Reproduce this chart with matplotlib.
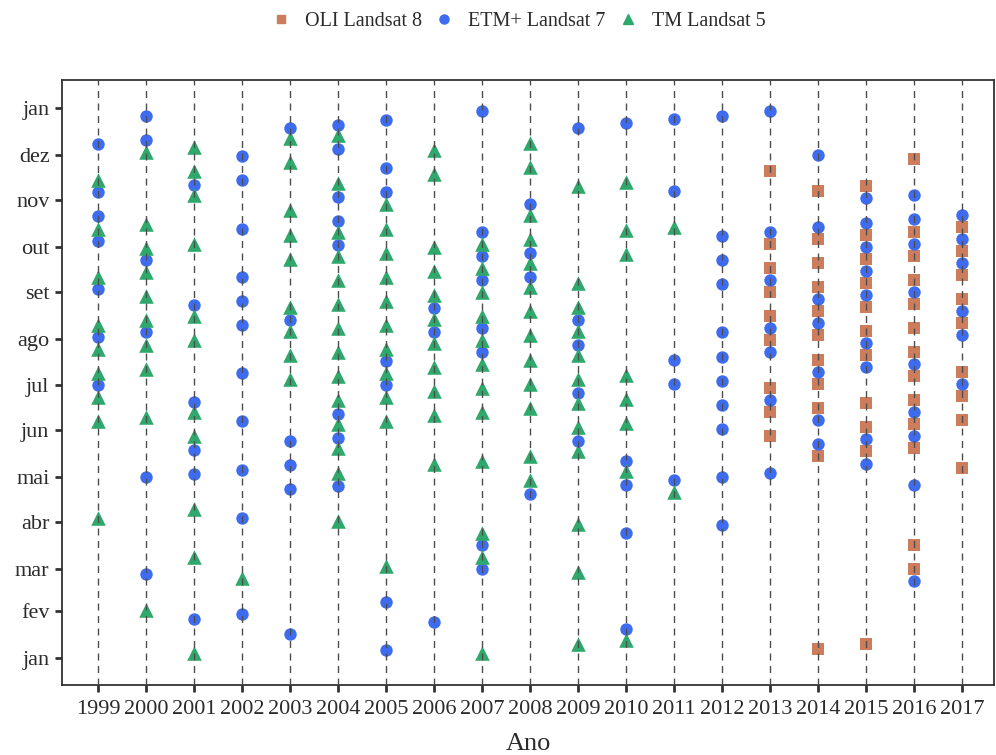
import matplotlib
matplotlib.use("Agg")
import matplotlib.pyplot as plt
from matplotlib.lines import Line2D

plt.rcParams['font.family'] = ['Liberation Serif', 'DejaVu Serif']

# Acquisition dates (day of year) per sensor and year
years = list(range(1999, 2018))

oli_days = {
    2013: [324, 276, 260, 244, 228, 212, 180, 164, 148],
    2014: [311, 279, 263, 247, 231, 215, 199, 183, 167, 135, 7],
    2015: [314, 282, 266, 250, 234, 218, 202, 170, 154, 138, 10],
    2016: [332, 284, 268, 252, 236, 220, 204, 188, 172, 156, 140, 76, 60],
    2017: [287, 271, 255, 239, 223, 191, 175, 159, 127],
}

etm_days = {
    1999: [342, 310, 294, 278, 246, 214, 182],
    2000: [361, 345, 265, 217, 121, 57],
    2001: [315, 235, 171, 139, 123, 27],
    2002: [334, 318, 286, 254, 238, 222, 190, 158, 126, 94, 30],
    2003: [353, 225, 145, 129, 113, 17],
    2004: [355, 339, 307, 291, 275, 163, 147, 115],
    2005: [358, 326, 310, 198, 182, 38, 6],
    2006: [233, 217, 25],
    2007: [364, 284, 268, 252, 220, 204, 76, 60],
    2008: [302, 270, 254, 110],
    2009: [353, 225, 209, 177, 145],
    2010: [356, 132, 116, 84, 20],
    2011: [359, 311, 199, 183, 119],
    2012: [361, 281, 265, 249, 217, 201, 185, 169, 153, 121, 89],
    2013: [364, 284, 252, 220, 204, 172, 124],
    2014: [335, 287, 239, 223, 191, 159, 143],
    2015: [306, 290, 274, 258, 242, 210, 194, 146, 130],
    2016: [308, 292, 276, 244, 196, 164, 148, 116, 52],
    2017: [295, 279, 263, 231, 215, 183],
}

tm_days = {
    1999: [318, 286, 254, 222, 206, 190, 174, 158, 94],
    2000: [337, 289, 273, 257, 241, 225, 209, 193, 161, 33],
    2001: [340, 324, 308, 276, 228, 212, 164, 148, 100, 68, 4],
    2002: [54],
    2003: [346, 330, 298, 282, 266, 234, 218, 202, 186],
    2004: [348, 316, 284, 268, 252, 236, 220, 204, 188, 172, 156, 140, 124, 92],
    2005: [302, 286, 270, 254, 238, 222, 206, 190, 174, 158, 62],
    2006: [338, 322, 274, 258, 242, 226, 210, 194, 178, 162, 130],
    2007: [276, 260, 244, 228, 212, 196, 180, 164, 132, 84, 68, 4],
    2008: [343, 327, 295, 279, 263, 247, 231, 215, 199, 183, 167, 135, 119],
    2009: [314, 250, 234, 218, 202, 186, 170, 154, 138, 90, 58, 10],
    2010: [317, 285, 269, 189, 173, 157, 125, 13],
    2011: [287, 111],
}

month_days = [1, 32, 60, 91, 121, 152, 182, 213, 244, 274, 305, 335, 366]
month_labels = ['jan', 'fev', 'mar', 'abr', 'mai', 'jun', 'jul', 'ago',
                'set', 'out', 'nov', 'dez', 'jan']

series = [
    ("OLI Landsat 8", oli_days, 's', '#CD7D5C', 74, 6.0),
    ("ETM+ Landsat 7", etm_days, 'o', '#3D6CF0', 80, 6.5),
    ("TM Landsat 5", tm_days, '^', '#2EA86B', 110, 7.5),
]

W, H = 996, 755
fig = plt.figure(figsize=(W / 100, H / 100), dpi=100)
ax = fig.add_axes([62 / W, 1 - 685 / H, (994 - 62) / W, (685 - 80) / H])

text_col = '#2b2b2b'

for label, data, marker, color, size, _ in series:
    xs, ys = [], []
    for yr, days in data.items():
        xs.extend([yr] * len(days))
        ys.extend(days)
    ax.scatter(xs, ys, marker=marker, s=size, color=color, linewidths=0,
               zorder=2, label=label)

for yr in years:
    ax.axvline(yr, color='#4d4d4d', linestyle=(0, (5, 4)), linewidth=1.0,
               zorder=3)

ax.set_xlim(1998.25, 2017.67)
ax.set_ylim(-17, 384.6)
ax.set_xticks(years)
ax.set_xticklabels([str(y) for y in years])
ax.set_yticks(month_days)
ax.set_yticklabels(month_labels)

ax.tick_params(axis='both', direction='out', length=5, width=2,
               color='#333333', labelsize=16, labelcolor=text_col, pad=4)
ax.tick_params(axis='x', pad=6)
for sp in ax.spines.values():
    sp.set_color('#333333')
    sp.set_linewidth(1.3)

ax.set_xlabel('Ano', fontsize=19, color=text_col, labelpad=10)

handles = [Line2D([], [], linestyle='none', marker=m, color=c, markersize=ms)
           for _, _, m, c, _, ms in series]
fig.legend(handles, [s[0] for s in series], loc='upper center',
           bbox_to_anchor=(0.52, 1.008), ncol=3, frameon=False,
           fontsize=14.5, handlelength=1.0, handletextpad=0.7,
           columnspacing=0.6, labelcolor=text_col)

fig.savefig('out.png', dpi=100)
